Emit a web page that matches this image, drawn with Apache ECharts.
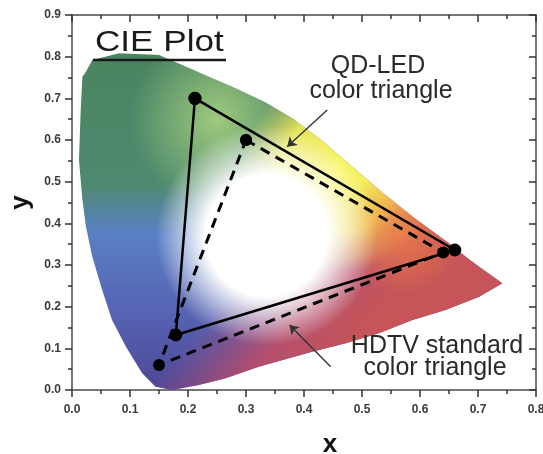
<!DOCTYPE html>
<html>
<head>
<meta charset="utf-8">
<script src="https://cdn.jsdelivr.net/npm/echarts@6/dist/echarts.min.js"></script>
<style>
html,body{margin:0;padding:0;background:#fff;}
#c{width:543px;height:454px;}
</style>
</head>
<body>
<div id="c"></div>
<script>
// ---- data ----
var xTicks = [0, 0.1, 0.2, 0.3, 0.4, 0.5, 0.6, 0.7, 0.8];
var yTicks = [0, 0.1, 0.2, 0.3, 0.4, 0.5, 0.6, 0.7, 0.8, 0.9];

// outline of the coloured chromaticity region (x, y)
var boundaryX = [0.173,0.144,0.121,0.093,0.069,0.052,0.035,0.024,0.018,0.012,0.015,0.018,0.024,0.035,0.081,0.150,0.190,0.236,0.282,0.334,0.380,0.430,0.480,0.535,0.593,0.650,0.679,0.702,0.742,0.702,0.644,0.587,0.529,0.472,0.414,0.322,0.265,0.219];
var boundaryY = [0.000,0.008,0.040,0.104,0.168,0.240,0.320,0.392,0.456,0.552,0.672,0.752,0.764,0.792,0.808,0.804,0.780,0.752,0.724,0.690,0.652,0.600,0.540,0.474,0.410,0.352,0.320,0.296,0.256,0.224,0.192,0.168,0.136,0.112,0.092,0.056,0.028,0.012];

// QD-LED colour triangle (G, R, B)
var qdX = [0.212, 0.660, 0.179];
var qdY = [0.700, 0.336, 0.132];
// HDTV standard colour triangle (G, R, B)
var hdX = [0.30, 0.64, 0.15];
var hdY = [0.60, 0.33, 0.06];

// annotation arrows [fromX, fromY, toX, toY]
var qdArrow = [0.440, 0.672, 0.371, 0.584];
var hdArrow = [0.446, 0.056, 0.375, 0.156];

function closed(xs, ys){
  var d = xs.map(function(x,i){return [x, ys[i]];});
  d.push([xs[0], ys[0]]);
  return d;
}

var FONT = "'Liberation Sans', Arial, Helvetica, sans-serif";
var chart = echarts.init(document.getElementById('c'), null, {renderer:'canvas'});

function renderRegion(params, api){
  var pts = boundaryX.map(function(x,i){ return api.coord([x, boundaryY[i]]); });
  var kids = [];
  function poly(fill){
    kids.push({type:'polygon', shape:{points:pts}, style:{fill:fill, stroke:null}, silent:true});
  }
  function P(x,y){ return api.coord([x,y]); }
  function R(d){ return api.size([d,0])[0]; }
  var G = echarts.graphic;
  var t = P(0,0.8), b = P(0,0);
  // base: green (top) -> blue -> indigo (bottom)
  poly(new G.LinearGradient(0, t[1], 0, b[1], [
    {offset:0, color:'#4a8460'},
    {offset:0.38, color:'#4f8a70'},
    {offset:0.53, color:'#5a80c4'},
    {offset:0.78, color:'#5662b2'},
    {offset:1, color:'#4c4896'}
  ], true));
  // red toward lower right
  var a0 = P(0.2,0.5), a1 = P(0.5,0.15);
  poly(new G.LinearGradient(a0[0], a0[1], a1[0], a1[1], [
    {offset:0.45, color:'rgba(190,72,112,0)'},
    {offset:0.75, color:'rgba(196,78,100,0.85)'},
    {offset:1, color:'rgba(198,84,88,1)'}
  ], true));
  // light green near the green corner
  var c1 = P(0.25,0.65);
  poly(new G.RadialGradient(c1[0], c1[1], R(0.15), [
    {offset:0, color:'rgba(168,210,128,0.9)'},
    {offset:1, color:'rgba(168,210,128,0)'}
  ], true));
  // yellow
  var c2 = P(0.46,0.52);
  poly(new G.RadialGradient(c2[0], c2[1], R(0.17), [
    {offset:0, color:'rgba(250,246,96,1)'},
    {offset:0.6, color:'rgba(248,238,88,0.9)'},
    {offset:1, color:'rgba(245,222,90,0)'}
  ], true));
  // orange
  var c3 = P(0.57,0.38);
  poly(new G.RadialGradient(c3[0], c3[1], R(0.11), [
    {offset:0, color:'rgba(240,128,70,0.85)'},
    {offset:1, color:'rgba(240,128,70,0)'}
  ], true));
  // white centre
  var c4 = P(0.335,0.37);
  poly(new G.RadialGradient(c4[0], c4[1], R(0.19), [
    {offset:0, color:'rgba(255,255,255,1)'},
    {offset:0.55, color:'rgba(255,255,255,1)'},
    {offset:1, color:'rgba(255,255,255,0)'}
  ], true));
  return {type:'group', children:kids};
}

var axisLineStyle = {color:'#4a4a4a', width:1.5};
var tickStyle = {color:'#333', width:1.5};
var labelStyle = {fontSize:12, fontWeight:'bold', color:'#3a3a3a', fontFamily:FONT,
  formatter:function(v){return v.toFixed(1);}};

var option = {
  animation:false,
  backgroundColor:'#fff',
  grid:{left:72, right:7, top:15, bottom:64, containLabel:false, outerBoundsMode:'none'},
  xAxis:[
    {type:'value', position:'bottom', min:xTicks[0], max:xTicks[xTicks.length-1], interval:0.1,
     axisLine:{show:true, lineStyle:axisLineStyle},
     axisTick:{show:true, inside:false, length:7, lineStyle:tickStyle},
     minorTick:{show:true, splitNumber:2, length:4, lineStyle:tickStyle},
     splitLine:{show:false}, minorSplitLine:{show:false},
     axisLabel:Object.assign({margin:14}, labelStyle),
     name:'x', nameLocation:'middle', nameGap:42,
     nameTextStyle:{fontSize:26, fontWeight:'bold', color:'#111', fontFamily:FONT, padding:[0,0,0,52]}},
    {type:'value', position:'top', min:xTicks[0], max:xTicks[xTicks.length-1], interval:0.1,
     axisLine:{show:true, onZero:false, lineStyle:axisLineStyle},
     axisTick:{show:true, inside:true, length:7, lineStyle:tickStyle},
     minorTick:{show:true, splitNumber:2, length:4, lineStyle:tickStyle},
     splitLine:{show:false}, axisLabel:{show:false}}
  ],
  yAxis:[
    {type:'value', position:'left', min:yTicks[0], max:yTicks[yTicks.length-1], interval:0.1,
     axisLine:{show:true, lineStyle:axisLineStyle},
     axisTick:{show:true, inside:false, length:7, lineStyle:tickStyle},
     minorTick:{show:true, splitNumber:2, length:4, lineStyle:tickStyle},
     splitLine:{show:false}, minorSplitLine:{show:false},
     axisLabel:Object.assign({margin:11}, labelStyle),
     name:'y', nameLocation:'middle', nameGap:37, nameRotate:90,
     nameTextStyle:{fontSize:26, fontWeight:'bold', color:'#111', fontFamily:FONT}},
    {type:'value', position:'right', min:yTicks[0], max:yTicks[yTicks.length-1], interval:0.1,
     axisLine:{show:true, onZero:false, lineStyle:axisLineStyle},
     axisTick:{show:true, inside:true, length:7, lineStyle:tickStyle},
     minorTick:{show:true, splitNumber:2, length:4, lineStyle:tickStyle},
     splitLine:{show:false}, axisLabel:{show:false}}
  ],
  series:[
    {type:'custom', xAxisIndex:0, yAxisIndex:0, data:[[0,0]], renderItem:renderRegion, silent:true, z:1, clip:false},
    {type:'line', name:'HDTV standard', xAxisIndex:0, yAxisIndex:0, data:closed(hdX, hdY),
     symbol:'circle', symbolSize:12, itemStyle:{color:'#000'},
     lineStyle:{color:'#000', width:3, type:[10,7]}, z:4, silent:true},
    {type:'line', name:'QD-LED', xAxisIndex:0, yAxisIndex:0, data:closed(qdX, qdY),
     symbol:'circle', symbolSize:13, itemStyle:{color:'#000'},
     lineStyle:{color:'#000', width:2.5}, z:5, silent:true},
    {type:'lines', coordinateSystem:'cartesian2d', xAxisIndex:0, yAxisIndex:0,
     symbol:['none','arrow'], symbolSize:9,
     lineStyle:{color:'#333', width:1.4, opacity:1},
     data:[
       {coords:[[qdArrow[0],qdArrow[1]],[qdArrow[2],qdArrow[3]]]},
       {coords:[[hdArrow[0],hdArrow[1]],[hdArrow[2],hdArrow[3]]]}
     ], z:6, silent:true}
  ],
  graphic:[
    {type:'text', x:95, y:42.8, scaleX:1.17, z:10,
     style:{text:'CIE Plot', font:'30px '+FONT, fill:'#1a1a1a', align:'left', verticalAlign:'middle'}},
    {type:'line', shape:{x1:93, y1:60, x2:226, y2:60}, style:{stroke:'#1a1a1a', lineWidth:2.5}, z:10},
    {type:'text', x:378, y:65.8, z:10,
     style:{text:'QD-LED', font:'25px '+FONT, fill:'#2a2a2a', align:'center', verticalAlign:'middle'}},
    {type:'text', x:381, y:91.3, z:10,
     style:{text:'color triangle', font:'25px '+FONT, fill:'#2a2a2a', align:'center', verticalAlign:'middle'}},
    {type:'text', x:437, y:345.8, z:10,
     style:{text:'HDTV standard', font:'25px '+FONT, fill:'#2a2a2a', align:'center', verticalAlign:'middle'}},
    {type:'text', x:435, y:368, z:10,
     style:{text:'color triangle', font:'25px '+FONT, fill:'#2a2a2a', align:'center', verticalAlign:'middle'}}
  ]
};
chart.setOption(option);
</script>
</body>
</html>
